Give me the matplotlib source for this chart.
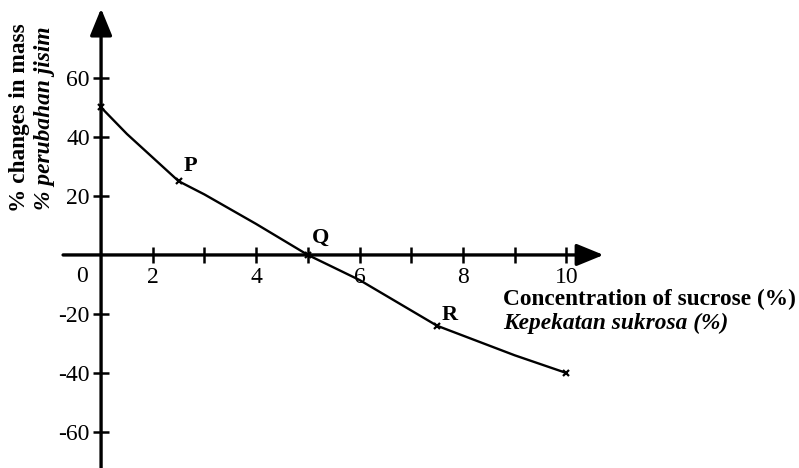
import numpy as np
import matplotlib
matplotlib.use("Agg")
import matplotlib.pyplot as plt

# values
conc = [0, 1, 2.5, 3, 4, 5, 6, 7.5, 9, 10]
mass_change = [50, 41, 25, 20.5, 10.5, 0, -8.5, -24, -34, -40]
labelled = {"P": (2.5, 25), "Q": (5, 0), "R": (7.5, -24)}

x_ticks = [2, 3, 4, 5, 6, 7, 8, 9, 10]
x_ticklabels = ["2", "", "4", "", "6", "", "8", "", "10"]
y_ticks = [-60, -40, -20, 20, 40, 60]
y_ticklabels = ["-60", "-40", "-20", "20", "40", "60"]

plt.rcParams["font.family"] = ["Liberation Serif", "DejaVu Serif"]


# the drawn graph squeezes 0..2 into one tick step, keep that look
def fwd(x):
    x = np.asarray(x, dtype=float)
    return np.where(x < 2, x / 2.0, x - 1.0)


def inv(u):
    u = np.asarray(u, dtype=float)
    return np.where(u < 1, u * 2.0, u + 1.0)


fig = plt.figure(figsize=(7.99, 4.68), dpi=100)
ax = fig.add_axes([0, 0, 1, 1])
ax.set_xscale("function", functions=(fwd, inv))
ax.set_xlim(-3.91, 14.5)
ax.set_ylim(-72.2, 86.4)

for s in ax.spines.values():
    s.set_visible(False)
ax.spines["left"].set_position(("data", 0))
ax.spines["bottom"].set_position(("data", 0))

# axes with arrow heads
arrow = dict(arrowstyle="-|>,head_length=1.1,head_width=0.45", lw=2.4,
             color="black", mutation_scale=15, shrinkA=0, shrinkB=0)
ax.annotate("", xy=(0, 83.5), xytext=(0, -80), arrowprops=arrow)
ax.annotate("", xy=(10.72, 0), xytext=(-1.47, 0), arrowprops=arrow)

ax.set_xticks(x_ticks)
ax.set_xticklabels(x_ticklabels)
ax.set_yticks(y_ticks)
ax.set_yticklabels(y_ticklabels)
ax.minorticks_off()
ax.tick_params(axis="both", direction="inout", length=12, width=1.8,
               labelsize=17, color="black")
ax.tick_params(axis="x", pad=2.5)
ax.tick_params(axis="y", pad=2)

ax.plot(conc, mass_change, color="black", lw=1.7, zorder=3)
pts_x = [conc[0], conc[-1]] + [v[0] for v in labelled.values()]
pts_y = [mass_change[0], mass_change[-1]] + [v[1] for v in labelled.values()]
ax.plot(pts_x, pts_y, "x", color="black", ms=4, mew=1.6, zorder=4)

ax.text(2.72, 30.3, "P", fontsize=16, fontweight="bold", ha="center", va="center")
ax.text(5.24, 5.9, "Q", fontsize=16, fontweight="bold", ha="center", va="center")
ax.text(7.75, -20.5, "R", fontsize=16, fontweight="bold", ha="center", va="center")

fig.text(82 / 799, 1 - 277 / 468, "0", fontsize=17, ha="center", va="center")

fig.text(503 / 799, 1 - 299 / 468, "Concentration of sucrose (%)", fontsize=16.8,
         fontweight="bold", ha="left", va="center")
fig.text(503 / 799, 1 - 323 / 468, "Kepekatan sukrosa (%)", fontsize=16.8,
         fontweight="bold", style="italic", ha="left", va="center")
fig.text(20 / 799, 1 - 118 / 468, "% changes in mass", fontsize=16.8,
         fontweight="bold", rotation=90, ha="center", va="center")
fig.text(45 / 799, 1 - 118 / 468, "% perubahan jisim", fontsize=16.8,
         fontweight="bold", style="italic", rotation=90, ha="center", va="center")

fig.savefig("out.png", dpi=100)
